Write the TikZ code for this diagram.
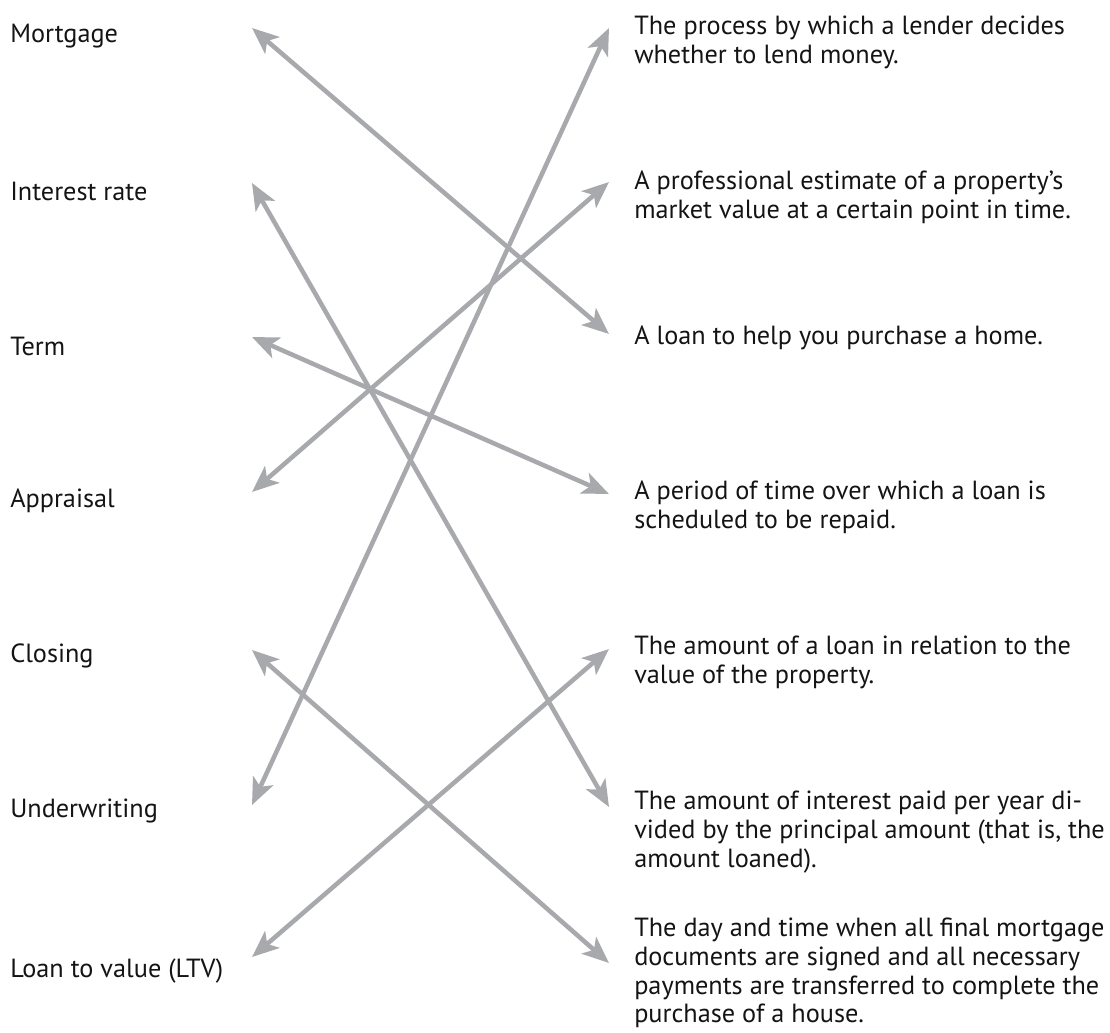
\documentclass[tikz,border=0pt]{standalone}
\usepackage{fontspec}
\setmainfont{PT Sans}
\usepackage{tikz}
\usetikzlibrary{arrows.meta, positioning, calc}
\usepackage{xcolor}
\definecolor{linkgray}{RGB}{167,169,172}
\definecolor{inkblack}{RGB}{20,20,20}

\begin{document}
\begin{tikzpicture}[x=0.75pt, y=-0.75pt,
  term/.style={anchor=west, inner sep=0pt, text=inkblack, font=\fontsize{19.7}{21.5}\selectfont},
  meaning/.style={anchor=north west, inner sep=0pt, align=left, text=inkblack, font=\fontsize{19.7}{21.5}\selectfont},
  link/.style={linkgray, line width=3.4pt, {Stealth[length=20pt, width=16.5pt, inset=5pt]}-{Stealth[length=20pt, width=16.5pt, inset=5pt]}}]
  \useasboundingbox (0,0) rectangle (1110,1032);

  % terms on the left
  \node[term] (mortgage) at (10, 36) {Mortgage};
  \node[term] (rate) at (10, 191) {Interest rate};
  \node[term] (term) at (10, 346) {Term};
  \node[term] (appraisal) at (10, 501) {Appraisal};
  \node[term] (closing) at (10, 656) {Closing};
  \node[term] (underwriting) at (10, 811) {Underwriting};
  \node[term] (ltv) at (10, 971) {Loan to value (LTV)};

  % meanings on the right
  \node[meaning] (defA) at (634, 16) {The process by which a lender decides\\whether to lend money.};
  \node[meaning] (defB) at (634, 171) {A professional estimate of a property's\\market value at a certain point in time.};
  \node[meaning] (defC) at (634, 326) {A loan to help you purchase a home.};
  \node[meaning] (defD) at (634, 481) {A period of time over which a loan is\\scheduled to be repaid.};
  \node[meaning] (defE) at (634, 636) {The amount of a loan in relation to the\\value of the property.};
  \node[meaning] (defF) at (634, 791) {The amount of interest paid per year di-\\vided by the principal amount (that is, the\\amount loaned).};
  \node[meaning] (defG) at (634, 918) {The day and time when all final mortgage\\documents are signed and all necessary\\payments are transferred to complete the\\purchase of a house.};

  % arrow ends
  \foreach \name/\y in {mortgage/28, rate/183, term/337, appraisal/492, closing/650, underwriting/805, ltv/957}
    \coordinate (\name-tip) at (252, \y);
  \foreach \name/\y in {defA/28, defB/182, defC/334, defD/494, defE/649, defF/807, defG/963}
    \coordinate (\name-tip) at (609, \y);

  \draw[link] (mortgage-tip) -- (defC-tip);
  \draw[link] (rate-tip) -- (defF-tip);
  \draw[link] (term-tip) -- (defD-tip);
  \draw[link] (appraisal-tip) -- (defB-tip);
  \draw[link] (closing-tip) -- (defG-tip);
  \draw[link] (underwriting-tip) -- (defA-tip);
  \draw[link] (ltv-tip) -- (defE-tip);
\end{tikzpicture}
\end{document}
